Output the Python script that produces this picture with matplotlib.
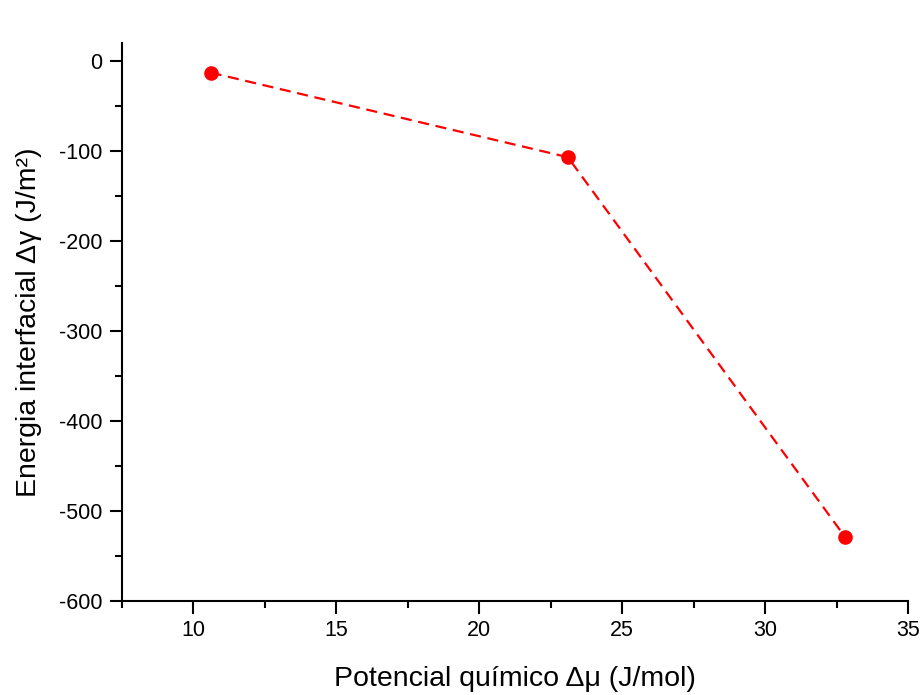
import matplotlib
matplotlib.use("Agg")
import matplotlib.pyplot as plt
from matplotlib.ticker import MultipleLocator

# data
mu = [10.6, 23.1, 32.8]
gamma = [-13, -107, -529]

plt.rcParams['font.family'] = ['Liberation Sans', 'DejaVu Sans']
plt.rcParams['axes.unicode_minus'] = False

fig = plt.figure(figsize=(9.22, 6.95), dpi=100)
ax = fig.add_axes([0.1323, 0.1353, 0.8525, 0.803])

ax.plot(mu, gamma, color='red', linestyle=(0, (5, 3)), linewidth=1.6,
        marker='o', markersize=9.5)

ax.set_xlim(7.5, 35)
ax.set_ylim(-600, 20)
ax.xaxis.set_minor_locator(MultipleLocator(2.5))
ax.yaxis.set_minor_locator(MultipleLocator(50))
ax.set_xticks([10, 15, 20, 25, 30, 35])
ax.set_yticks([0, -100, -200, -300, -400, -500, -600])

for s in ['top', 'right']:
    ax.spines[s].set_visible(False)
for s in ['left', 'bottom']:
    ax.spines[s].set_linewidth(1.5)

ax.tick_params(which='major', direction='out', length=9, width=1.5, labelsize=15.5, pad=5)
ax.tick_params(which='minor', direction='out', length=5, width=1.5)

ax.set_xlabel('Potencial químico Δμ (J/mol)', fontsize=20.5, labelpad=18)
ax.set_ylabel('Energia interfacial Δγ (J/m²)', fontsize=20.5, labelpad=12)

fig.savefig('out.png', dpi=100)
